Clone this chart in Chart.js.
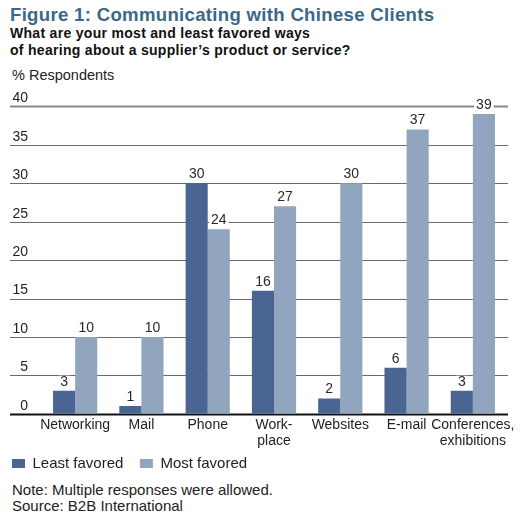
<!DOCTYPE html>
<html lang="en">
<head>
    <meta charset="UTF-8">
    <title>Communicating with Chinese Clients</title>
    <script src="https://cdn.jsdelivr.net/npm/chart.js@4.4.0/dist/chart.umd.min.js"></script>
    <style>
        body {
            margin: 0;
            background-color: white;
            font-family: "Liberation Sans", Arial, sans-serif;
            width: 522px;
            height: 520px;
            position: relative;
            overflow: hidden;
        }

        .txt {
            position: absolute;
            left: 10px;
            white-space: nowrap;
        }

        #title {
            top: 4px;
            font-size: 18.6px;
            font-weight: bold;
            color: #3b6886;
            letter-spacing: 0.3px;
        }

        #subtitle {
            top: 25px;
            font-size: 14px;
            font-weight: bold;
            color: #111;
            line-height: 17px;
            letter-spacing: 0.3px;
        }

        #unit {
            top: 67px;
            left: 12px;
            font-size: 14.5px;
            color: #222;
        }

        #notes {
            top: 482px;
            left: 12px;
            font-size: 15px;
            color: #222;
            line-height: 16px;
        }

        .chartbox {
            position: absolute;
            left: 0;
            top: 84px;
            width: 522px;
            height: 397px;
        }
    </style>
</head>
<body>
    <div class="txt" id="title">Figure 1: Communicating with Chinese Clients</div>
    <div class="txt" id="subtitle">What are your most and least favored ways<br>of hearing about a supplier’s product or service?</div>
    <div class="txt" id="unit">% Respondents</div>

    <div class="chartbox">
        <canvas id="barChart"></canvas>
    </div>

    <div class="txt" id="notes">Note: Multiple responses were allowed.<br>Source: B2B International</div>

    <script>
        // data
        const categories = [["Networking"], ["Mail"], ["Phone"], ["Work-", "place"], ["Websites"], ["E-mail"], ["Conferences,", "exhibitions"]];
        const leastFavored = [3, 1, 30, 16, 2, 6, 3];
        const mostFavored = [10, 10, 24, 27, 30, 37, 39];
        const yTicks = [0, 5, 10, 15, 20, 25, 30, 35, 40];

        const darkBlue = "#4a6592";
        const lightBlue = "#91a5bf";
        const fontName = "'Liberation Sans', Arial, sans-serif";

        // horizontal rules, drawn out to the left edge under the tick numbers
        const gridPlugin = {
            id: "rules",
            beforeDatasetsDraw(chart) {
                const ctx = chart.ctx;
                const y = chart.scales.y;
                const area = chart.chartArea;
                ctx.save();
                yTicks.forEach(v => {
                    const py = Math.round(y.getPixelForValue(v)) + 0.5;
                    ctx.beginPath();
                    if (v === 0) {
                        ctx.strokeStyle = "#111";
                        ctx.lineWidth = 2;
                    } else if (v === 40) {
                        ctx.strokeStyle = "#888";
                        ctx.lineWidth = 2;
                    } else {
                        ctx.strokeStyle = "#6a6a6a";
                        ctx.lineWidth = 1;
                    }
                    ctx.moveTo(10, py);
                    ctx.lineTo(area.right + 2, py);
                    ctx.stroke();
                });
                ctx.restore();
            }
        };

        // numbers on top of the bars, with a white patch behind them
        const valuePlugin = {
            id: "values",
            afterDatasetsDraw(chart) {
                const ctx = chart.ctx;
                ctx.save();
                ctx.font = "14px " + fontName;
                ctx.textAlign = "center";
                ctx.textBaseline = "middle";
                chart.data.datasets.forEach((ds, i) => {
                    chart.getDatasetMeta(i).data.forEach((bar, j) => {
                        const txt = String(ds.data[j]);
                        const w = ctx.measureText(txt).width;
                        const ty = bar.y - 9;
                        ctx.fillStyle = "white";
                        ctx.fillRect(bar.x - w / 2 - 2, ty - 6, w + 4, 12);
                        ctx.fillStyle = "#2a2a2a";
                        ctx.fillText(txt, bar.x, ty);
                    });
                });
                ctx.restore();
            }
        };

        const chart = new Chart(document.getElementById("barChart"), {
            type: "bar",
            data: {
                labels: categories,
                datasets: [{
                    label: "Least favored",
                    data: leastFavored,
                    backgroundColor: darkBlue
                }, {
                    label: "Most favored",
                    data: mostFavored,
                    backgroundColor: lightBlue
                }]
            },
            options: {
                animation: false,
                responsive: true,
                maintainAspectRatio: false,
                barPercentage: 1.0,
                categoryPercentage: 0.667,
                layout: {
                    padding: { left: 8, right: 16, top: 17, bottom: 0 }
                },
                plugins: {
                    legend: {
                        position: "bottom",
                        align: "start",
                        labels: {
                            color: "#222",
                            font: { family: fontName, size: 15 },
                            boxWidth: 13,
                            boxHeight: 9,
                            padding: 4,
                            // a few trailing spaces to open up the gap between the two entries
                            generateLabels(chart) {
                                return Chart.defaults.plugins.legend.labels.generateLabels(chart)
                                    .map(item => Object.assign(item, { text: item.text + "   " }));
                            }
                        }
                    },
                    tooltip: { enabled: false }
                },
                scales: {
                    x: {
                        grid: { display: false, drawTicks: false },
                        border: { display: false },
                        ticks: {
                            color: "#222",
                            font: { family: fontName, size: 14, lineHeight: 1.15 },
                            padding: 3,
                            maxRotation: 0,
                            autoSkip: false
                        }
                    },
                    y: {
                        min: 0,
                        max: 40,
                        afterFit(scale) { scale.width = 34; },
                        afterBuildTicks(scale) { scale.ticks = yTicks.map(v => ({ value: v })); },
                        grid: { display: false, drawTicks: false },
                        border: { display: false },
                        ticks: {
                            color: "#222",
                            font: { family: fontName, size: 14 },
                            padding: 14,
                            labelOffset: -8
                        }
                    }
                }
            },
            plugins: [gridPlugin, valuePlugin]
        });
    </script>
</body>
</html>
